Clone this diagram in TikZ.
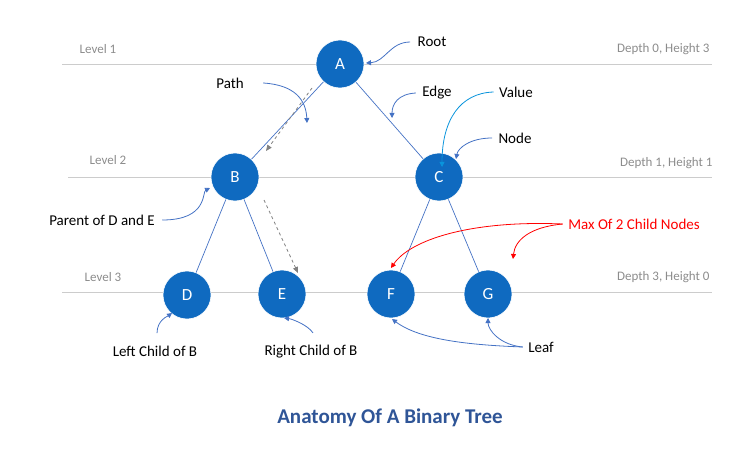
\documentclass[tikz,border=0pt]{standalone}
\usepackage{fontspec}
\setmainfont{Carlito}
\usetikzlibrary{arrows.meta}
\definecolor{nb}{HTML}{0F6AC0}
\definecolor{ln}{HTML}{4472C4}
\definecolor{tt}{HTML}{2F5597}
\begin{document}
\begin{tikzpicture}[x=1pt,y=-1pt,
 tn/.style={circle,fill=nb,draw=white,line width=0.6pt,minimum size=48pt,inner sep=0pt,text=white,font=\fontsize{17}{17}\selectfont},
 lv/.style={text=black!45,font=\fontsize{13}{13}\selectfont},
 lb/.style={font=\fontsize{15}{15}\selectfont},
 ed/.style={ln,line width=0.7pt},
 an/.style={ln,line width=0.8pt,-{Triangle[width=5pt,length=5pt]}},
 da/.style={gray,dashed,line width=0.8pt,-{Triangle[width=5pt,length=6pt]}}]
\useasboundingbox (0,0) rectangle (743,449);
\draw[black!20,line width=0.6pt] (62,64) -- (712,64) (68,177) -- (712,177) (62,292) -- (712,292);
\node[lv] (l1) at (98,49) {Level 1};
\node[lv] (l2) at (108,160) {Level 2};
\node[lv] (l3) at (103,277) {Level 3};
\node[lv,anchor=east] (d1) at (713,49) {Depth 0, Height 3};
\node[lv,anchor=east] (d2) at (716,163) {Depth 1, Height 1};
\node[lv,anchor=east] (d3) at (713,277) {Depth 3, Height 0};
\node[tn] (A) at (340,64) {A};
\node[tn] (B) at (235,177) {B};
\node[tn] (C) at (439,177) {C};
\node[tn] (D) at (187,295) {D};
\node[tn] (E) at (282,294) {E};
\node[tn] (F) at (391,294) {F};
\node[tn] (G) at (488,294) {G};
\begin{scope}[on background layer/.try]
\end{scope}
\draw[ed] (A) -- (B); \draw[ed] (A) -- (C);
\draw[ed] (B) -- (D); \draw[ed] (B) -- (E);
\draw[ed] (C) -- (F); \draw[ed] (C) -- (G);
\coordinate (p1) at (312,88); \coordinate (p2) at (266,151);
\draw[da] (p1) -- (p2);
\coordinate (p3) at (264,200); \coordinate (p4) at (298,273);
\draw[da] (p3) -- (p4);
\node[lb] (root) at (432,42) {Root};
\node[lb] (path) at (230,83) {Path};
\node[lb] (edge) at (437,93) {Edge};
\node[lb] (value) at (516,92) {Value};
\node[lb] (nodel) at (515,138) {Node};
\node[lb] (par) at (102,220) {Parent of D and E};
\node[lb] (lc) at (155,351) {Left Child of B};
\node[lb] (rc) at (311,352) {Right Child of B};
\node[lb] (leaf) at (541,347) {Leaf};
\node[lb,text=red] (max) at (634,224) {Max Of 2 Child Nodes};
\node[text=tt,font=\bfseries\fontsize{21}{21}\selectfont] (title) at (390,418) {Anatomy Of A Binary Tree};
\draw[an] (root.west) ++(-4,0) .. controls (390,42) and (385,62) .. (366,63);
\draw[an] (path.east) ++(16,0) .. controls (295,85) and (306,100) .. (307,123);
\draw[an] (edge.west) ++(-3,0) .. controls (398,94) and (392,104) .. (392,118);
\draw[cyan!80!blue,line width=0.8pt,-{Triangle[width=5pt,length=5pt]}] (value.west) ++(-2,0) .. controls (460,93) and (442,120) .. (442,167);
\draw[an] (nodel.west) ++(-3,0) .. controls (470,138) and (458,148) .. (456,159);
\draw[an] (par.east) ++(4,0) .. controls (208,220) and (202,192) .. (210,188);
\draw[an] (lc.north) ++(2,-9) .. controls (157,320) and (168,316) .. (172,313);
\draw[an] (rc.north) ++(2,-9) .. controls (308,325) and (292,319) .. (284,318);
\draw[an] (leaf.west) ++(-2,0) .. controls (470,345) and (420,340) .. (392,319);
\draw[an] (leaf.west) ++(-2,0) .. controls (500,345) and (488,330) .. (488,318);
\draw[red,line width=0.8pt,-{Triangle[width=5pt,length=5pt]}] (max.west) ++(-2,0) .. controls (470,220) and (410,240) .. (391,268);
\draw[red,line width=0.8pt,-{Triangle[width=5pt,length=5pt]}] (max.west) ++(-2,0) .. controls (530,227) and (515,240) .. (513,259);
\end{tikzpicture}
\end{document}
